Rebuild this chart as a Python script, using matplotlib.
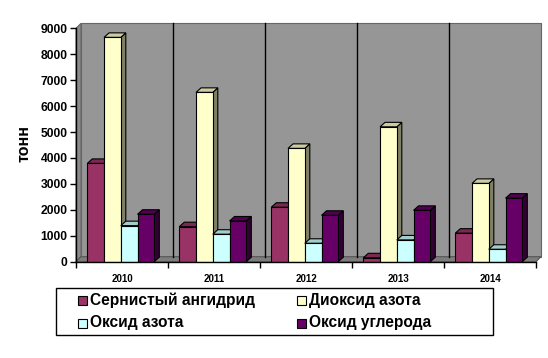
import matplotlib
matplotlib.use("Agg")
import matplotlib.pyplot as plt
from matplotlib.patches import Polygon, Rectangle
import numpy as np

plt.rcParams['font.family'] = ['Liberation Sans', 'DejaVu Sans']

years = ["2010", "2011", "2012", "2013", "2014"]
series_names = ["Сернистый ангидрид", "Диоксид азота", "Оксид азота", "Оксид углерода"]
so2 = [3790, 1350, 2100, 150, 1100]
no2 = [8650, 6530, 4370, 5200, 3020]
no = [1390, 1060, 710, 840, 480]
co = [1830, 1570, 1790, 1980, 2450]
series = [so2, no2, no, co]
colors = ["#993366", "#FFFFCC", "#CCFFFF", "#660066"]
yticks = [0, 1000, 2000, 3000, 4000, 5000, 6000, 7000, 8000, 9000]

W, H = 548, 358
fig = plt.figure(figsize=(W / 100, H / 100), dpi=100)
ax_l, ax_r, ax_b, ax_t = 76, 536, 261.7, 28.3
ax = fig.add_axes([ax_l / W, 1 - ax_b / H, (ax_r - ax_l) / W, (ax_b - ax_t) / H])
ncat = len(years)
ymax = 9000
ax.set_xlim(0, ncat)
ax.set_ylim(0, ymax)

# depth offsets in data units
px_x = (ax_r - ax_l) / ncat
px_y = (ax_b - ax_t) / ymax
DX, DY = 5 / px_x, 5 / px_y
bdx, bdy = 5 / px_x, 4.5 / px_y

wall = "#969696"
floor_c = "#7d7d7d"
side_wall = "#8a8a8a"


def shade(c, f):
    r, g, b = matplotlib.colors.to_rgb(c)
    return (r * f, g * f, b * f)


def poly(pts, fc, z, ec="black", lw=0.8):
    ax.add_patch(Polygon(pts, closed=True, facecolor=fc, edgecolor=ec, linewidth=lw,
                         zorder=z, clip_on=False, joinstyle="miter"))

# back wall
poly([(DX, DY), (ncat + DX, DY), (ncat + DX, ymax + DY), (DX, ymax + DY)], wall, 1, ec="#666666")
# left wall
poly([(0, 0), (DX, DY), (DX, ymax + DY), (0, ymax)], side_wall, 1, ec="#666666")
# floor
poly([(0, 0), (ncat, 0), (ncat + DX, DY), (DX, DY)], floor_c, 1.5, ec="#555555")
# gridlines on back wall (category separators)
for i in range(1, ncat):
    ax.plot([i + DX, i + DX], [DY, ymax + DY], color="black", lw=1.0, zorder=2, clip_on=False)

# bars
bw = 16.75 / px_x
shift = -1.2 / px_x
nser = len(series)
for i in range(ncat):
    x0 = i + 0.5 + shift - nser * bw / 2
    for j in range(nser):
        v = series[j][i]
        xl = x0 + j * bw
        xr = xl + bw
        z = 3 + i * 0.1 + j * 0.01
        # side
        poly([(xr, 0), (xr + bdx, bdy), (xr + bdx, v + bdy), (xr, v)], shade(colors[j], 0.5), z)
        # top
        poly([(xl, v), (xr, v), (xr + bdx, v + bdy), (xl + bdx, v + bdy)], shade(colors[j], 0.8), z)
        # front
        ax.bar(xl, v, width=bw, align="edge", color=colors[j], edgecolor="black",
               linewidth=0.8, zorder=z + 0.001)

# axes lines and ticks
for s in ax.spines.values():
    s.set_visible(False)
ax.plot([0, 0], [0, ymax], color="black", lw=1.0, zorder=10, clip_on=False)
ax.plot([0, ncat], [0, 0], color="black", lw=1.0, zorder=10, clip_on=False)
ax.set_yticks(yticks)
ax.set_yticklabels([str(t) for t in yticks], fontsize=8.7, fontweight="bold")
ax.set_xticks(np.arange(0, ncat + 1))
ax.set_xticklabels([])
ax.set_xticks(np.arange(ncat) + 0.5, minor=True)
ax.set_xticklabels(years, minor=True, fontsize=7, fontweight="bold")
ax.tick_params(axis="y", length=4, width=1, pad=2, direction="out")
ax.tick_params(axis="x", which="major", length=4, width=1, direction="out")
ax.tick_params(axis="x", which="minor", length=0, pad=9)

fig.text(24 / W, 1 - 143.5 / H, "тонн", rotation=90, fontsize=11.5, fontweight="bold",
         ha="center", va="center")

# legend
lx0, lx1, ly0, ly1 = 56, 493, 288, 335
fig.patches.append(Rectangle((lx0 / W, 1 - ly1 / H), (lx1 - lx0) / W, (ly1 - ly0) / H,
                             transform=fig.transFigure, facecolor="white", edgecolor="black",
                             linewidth=1.0, zorder=20))
pos = [(78, 300.5), (297, 300.5), (78, 323), (297, 323)]
for (px, py), name, c in zip(pos, series_names, colors):
    s = 9
    fig.patches.append(Rectangle((px / W, 1 - (py + s / 2) / H), s / W, s / H,
                                 transform=fig.transFigure, facecolor=c, edgecolor="black",
                                 linewidth=0.8, zorder=21))
    fig.text((px + s + 3) / W, 1 - py / H, name, fontsize=11.2, fontweight="bold",
             ha="left", va="center", zorder=22)

fig.savefig("out.png", dpi=100)
